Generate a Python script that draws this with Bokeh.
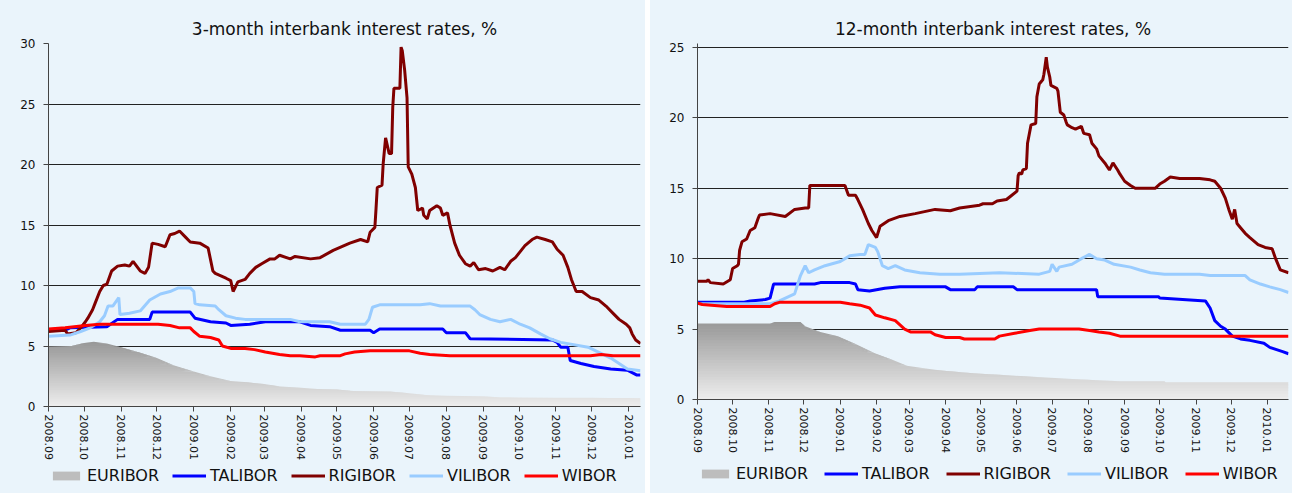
import numpy as np
import pandas as pd
from bokeh.plotting import figure
from bokeh.layouts import row, column
from bokeh.models import FixedTicker, Legend, LegendItem, Range1d, DatetimeTickFormatter
from bokeh.embed import file_html
from bokeh.resources import INLINE

BG = "#EAF4FB"
FONT = "DejaVu Sans"

month_ticks = ["2008-09-01", "2008-10-01", "2008-11-01", "2008-12-01", "2009-01-01", "2009-02-01",
               "2009-03-01", "2009-04-01", "2009-05-01", "2009-06-01", "2009-07-01", "2009-08-01",
               "2009-09-01", "2009-10-01", "2009-11-01", "2009-12-01", "2010-01-01"]

series_names = ["EURIBOR", "TALIBOR", "RIGIBOR", "VILIBOR", "WIBOR"]
series_colors = ["#BDBDBD", "#0000FF", "#800000", "#99CCFF", "#FF0000"]

# ---------------- 3-month rates ----------------
eur3 = [("2008-09-01", 4.95), ("2008-09-20", 5.0), ("2008-10-01", 5.25), ("2008-10-09", 5.35),
        ("2008-10-20", 5.2), ("2008-11-01", 4.9), ("2008-11-15", 4.5), ("2008-12-01", 4.0),
        ("2008-12-15", 3.4), ("2009-01-01", 2.9), ("2009-01-15", 2.5), ("2009-02-01", 2.1),
        ("2009-02-15", 2.0), ("2009-03-01", 1.85), ("2009-03-15", 1.65), ("2009-04-01", 1.55),
        ("2009-04-15", 1.45), ("2009-05-01", 1.4), ("2009-05-15", 1.28), ("2009-06-01", 1.27),
        ("2009-06-15", 1.25), ("2009-07-01", 1.1), ("2009-07-15", 0.95), ("2009-08-01", 0.88),
        ("2009-08-15", 0.86), ("2009-09-01", 0.82), ("2009-09-15", 0.77), ("2009-10-01", 0.74),
        ("2009-11-01", 0.72), ("2009-12-01", 0.72), ("2009-12-15", 0.71), ("2010-01-01", 0.70),
        ("2010-01-11", 0.68)]

tal3 = [("2008-09-01", 6.3), ("2008-09-15", 6.3), ("2008-09-19", 6.5), ("2008-10-20", 6.6),
        ("2008-10-29", 7.2), ("2008-11-25", 7.2), ("2008-11-27", 7.8), ("2008-12-29", 7.8),
        ("2009-01-02", 7.3), ("2009-01-15", 7.0), ("2009-01-28", 6.9), ("2009-02-01", 6.7),
        ("2009-02-17", 6.8), ("2009-03-02", 7.0), ("2009-03-31", 7.0), ("2009-04-09", 6.7),
        ("2009-04-25", 6.6), ("2009-05-04", 6.3), ("2009-05-29", 6.3), ("2009-06-01", 6.1),
        ("2009-06-06", 6.4), ("2009-07-29", 6.4), ("2009-08-01", 6.1), ("2009-08-17", 6.1),
        ("2009-08-21", 5.6), ("2009-10-29", 5.5), ("2009-11-02", 5.3), ("2009-11-05", 4.9),
        ("2009-11-11", 4.9), ("2009-11-13", 3.8), ("2009-11-22", 3.55), ("2009-12-03", 3.3),
        ("2009-12-17", 3.1), ("2009-12-31", 3.0), ("2010-01-08", 2.6), ("2010-01-11", 2.6)]

rig3 = [("2008-09-01", 6.2), ("2008-09-15", 6.3), ("2008-09-17", 6.0), ("2008-09-24", 6.1),
        ("2008-09-28", 6.5), ("2008-10-02", 7.0), ("2008-10-04", 7.3), ("2008-10-08", 8.0),
        ("2008-10-10", 8.5), ("2008-10-14", 9.5), ("2008-10-17", 10.0), ("2008-10-20", 10.1),
        ("2008-10-24", 11.2), ("2008-10-29", 11.6), ("2008-11-04", 11.7), ("2008-11-08", 11.6),
        ("2008-11-11", 12.0), ("2008-11-17", 11.2), ("2008-11-21", 11.0), ("2008-11-24", 11.5),
        ("2008-11-27", 13.5), ("2008-12-02", 13.4), ("2008-12-08", 13.2), ("2008-12-12", 14.2),
        ("2008-12-16", 14.3), ("2008-12-20", 14.5), ("2008-12-25", 14.0), ("2008-12-29", 13.6),
        ("2009-01-06", 13.5), ("2009-01-13", 13.1), ("2009-01-17", 11.2), ("2009-01-19", 11.0),
        ("2009-01-28", 10.6), ("2009-02-01", 10.4), ("2009-02-03", 9.5), ("2009-02-07", 10.3),
        ("2009-02-13", 10.5), ("2009-02-17", 11.0), ("2009-02-22", 11.5), ("2009-02-27", 11.8),
        ("2009-03-06", 12.2), ("2009-03-10", 12.2), ("2009-03-14", 12.5), ("2009-03-23", 12.2),
        ("2009-03-27", 12.4), ("2009-04-09", 12.2), ("2009-04-17", 12.3), ("2009-04-28", 12.9),
        ("2009-05-12", 13.5), ("2009-05-21", 13.8), ("2009-05-27", 13.6), ("2009-05-29", 14.4),
        ("2009-06-02", 14.8), ("2009-06-03", 16.4), ("2009-06-04", 18.1), ("2009-06-08", 18.3),
        ("2009-06-09", 20.1), ("2009-06-11", 22.2), ("2009-06-14", 20.9), ("2009-06-16", 20.9),
        ("2009-06-17", 24.7), ("2009-06-18", 26.3), ("2009-06-23", 26.3), ("2009-06-24", 29.7),
        ("2009-06-25", 29.4), ("2009-06-27", 27.8), ("2009-06-29", 25.5), ("2009-06-30", 19.8),
        ("2009-07-03", 19.2), ("2009-07-06", 18.1), ("2009-07-08", 16.2), ("2009-07-12", 16.4),
        ("2009-07-13", 15.8), ("2009-07-16", 15.5), ("2009-07-18", 16.2), ("2009-07-24", 16.6),
        ("2009-07-27", 16.4), ("2009-07-29", 15.8), ("2009-08-02", 16.0), ("2009-08-04", 15.0),
        ("2009-08-08", 13.5), ("2009-08-12", 12.5), ("2009-08-17", 11.8), ("2009-08-21", 11.6),
        ("2009-08-24", 11.9), ("2009-08-28", 11.3), ("2009-09-03", 11.4), ("2009-09-09", 11.2),
        ("2009-09-15", 11.5), ("2009-09-19", 11.3), ("2009-09-24", 12.0), ("2009-09-28", 12.3),
        ("2009-10-02", 12.8), ("2009-10-06", 13.3), ("2009-10-12", 13.8), ("2009-10-16", 14.0),
        ("2009-10-23", 13.8), ("2009-10-29", 13.6), ("2009-11-02", 13.0), ("2009-11-07", 12.5),
        ("2009-11-11", 11.5), ("2009-11-14", 10.5), ("2009-11-18", 9.5), ("2009-11-23", 9.5),
        ("2009-11-30", 9.0), ("2009-12-07", 8.8), ("2009-12-13", 8.3), ("2009-12-19", 7.7),
        ("2009-12-24", 7.2), ("2009-12-30", 6.8), ("2010-01-02", 6.5), ("2010-01-04", 6.0),
        ("2010-01-07", 5.5), ("2010-01-11", 5.2)]

vil3 = [("2008-09-01", 5.8), ("2008-09-19", 5.9), ("2008-09-28", 6.2), ("2008-10-06", 6.5),
        ("2008-10-14", 7.0), ("2008-10-18", 7.5), ("2008-10-21", 8.3), ("2008-10-25", 8.3),
        ("2008-10-30", 9.0), ("2008-10-31", 7.6), ("2008-11-08", 7.7), ("2008-11-17", 7.9),
        ("2008-11-25", 8.8), ("2008-12-04", 9.3), ("2008-12-12", 9.5), ("2008-12-19", 9.8),
        ("2008-12-29", 9.8), ("2009-01-01", 9.5), ("2009-01-02", 8.5), ("2009-01-06", 8.4),
        ("2009-01-19", 8.3), ("2009-01-22", 8.0), ("2009-01-28", 7.5), ("2009-02-05", 7.3),
        ("2009-02-13", 7.2), ("2009-03-23", 7.2), ("2009-03-31", 7.0), ("2009-04-25", 7.0),
        ("2009-05-04", 6.8), ("2009-05-25", 6.8), ("2009-05-28", 7.2), ("2009-05-31", 8.2),
        ("2009-06-06", 8.4), ("2009-07-10", 8.4), ("2009-07-18", 8.5), ("2009-07-27", 8.3),
        ("2009-08-21", 8.3), ("2009-08-25", 8.0), ("2009-08-29", 7.6), ("2009-09-07", 7.2),
        ("2009-09-15", 7.0), ("2009-09-24", 7.2), ("2009-10-02", 6.8), ("2009-10-10", 6.5),
        ("2009-10-19", 6.0), ("2009-10-27", 5.6), ("2009-11-05", 5.3), ("2009-11-28", 4.9),
        ("2009-12-17", 4.0), ("2009-12-31", 3.1), ("2010-01-11", 2.95)]

wib3 = [("2008-09-01", 6.4), ("2008-09-15", 6.5), ("2008-10-02", 6.7), ("2008-10-14", 6.8),
        ("2008-12-02", 6.8), ("2008-12-12", 6.7), ("2008-12-20", 6.5), ("2008-12-29", 6.5),
        ("2009-01-01", 6.2), ("2009-01-06", 5.8), ("2009-01-15", 5.7), ("2009-01-22", 5.5),
        ("2009-01-25", 5.0), ("2009-02-01", 4.8), ("2009-02-13", 4.8), ("2009-02-21", 4.7),
        ("2009-03-02", 4.5), ("2009-03-14", 4.3), ("2009-03-23", 4.2), ("2009-03-31", 4.2),
        ("2009-04-13", 4.1), ("2009-04-17", 4.2), ("2009-05-04", 4.2), ("2009-05-08", 4.35),
        ("2009-05-16", 4.5), ("2009-05-29", 4.6), ("2009-07-01", 4.6), ("2009-07-10", 4.4),
        ("2009-07-18", 4.3), ("2009-08-04", 4.2), ("2009-11-30", 4.2), ("2009-12-09", 4.3),
        ("2009-12-19", 4.2), ("2010-01-11", 4.2)]

# ---------------- 12-month rates ----------------
eur12 = [("2008-09-01", 5.4), ("2008-11-02", 5.4), ("2008-11-06", 5.5), ("2008-11-28", 5.5),
         ("2008-12-02", 5.2), ("2008-12-15", 4.8), ("2008-12-30", 4.5), ("2009-01-15", 3.9),
         ("2009-01-30", 3.3), ("2009-02-15", 2.8), ("2009-02-27", 2.4), ("2009-03-15", 2.2),
         ("2009-03-28", 2.06), ("2009-04-27", 1.85), ("2009-05-28", 1.7), ("2009-06-26", 1.56),
         ("2009-07-26", 1.42), ("2009-08-28", 1.3), ("2009-10-05", 1.3), ("2009-10-06", 1.23),
         ("2010-01-19", 1.23)]

tal12 = [("2008-09-01", 6.9), ("2008-10-11", 6.9), ("2008-10-16", 7.0), ("2008-10-29", 7.1),
         ("2008-11-02", 7.2), ("2008-11-05", 8.2), ("2008-12-10", 8.2), ("2008-12-15", 8.3),
         ("2009-01-09", 8.3), ("2009-01-14", 8.2), ("2009-01-16", 7.8), ("2009-01-26", 7.7),
         ("2009-02-08", 7.9), ("2009-02-21", 8.0), ("2009-04-01", 8.0), ("2009-04-05", 7.8),
         ("2009-04-26", 7.8), ("2009-04-28", 8.0), ("2009-05-29", 8.0), ("2009-06-01", 7.8),
         ("2009-08-08", 7.8), ("2009-08-09", 7.3), ("2009-09-30", 7.3), ("2009-10-01", 7.2),
         ("2009-11-09", 7.0), ("2009-11-13", 6.5), ("2009-11-17", 5.6), ("2009-11-22", 5.2),
         ("2009-11-26", 5.0), ("2009-12-02", 4.5), ("2009-12-09", 4.3), ("2009-12-17", 4.2),
         ("2009-12-29", 4.0), ("2010-01-03", 3.7), ("2010-01-14", 3.4), ("2010-01-19", 3.25)]

rig12 = [("2008-09-01", 8.4), ("2008-09-09", 8.4), ("2008-09-10", 8.5), ("2008-09-12", 8.3),
         ("2008-09-23", 8.2), ("2008-09-29", 8.5), ("2008-10-01", 9.3), ("2008-10-05", 9.5),
         ("2008-10-06", 9.6), ("2008-10-07", 10.6), ("2008-10-09", 11.2), ("2008-10-13", 11.4),
         ("2008-10-16", 12.0), ("2008-10-20", 12.2), ("2008-10-23", 12.9), ("2008-10-24", 13.1),
         ("2008-11-02", 13.2), ("2008-11-15", 13.0), ("2008-11-23", 13.5), ("2008-12-02", 13.6),
         ("2008-12-05", 13.6), ("2008-12-06", 15.2), ("2009-01-05", 15.2), ("2009-01-08", 14.5),
         ("2009-01-14", 14.5), ("2009-01-16", 14.2), ("2009-01-20", 13.5), ("2009-01-25", 12.5),
         ("2009-01-28", 12.0), ("2009-02-01", 11.5), ("2009-02-04", 12.3), ("2009-02-11", 12.7),
         ("2009-02-21", 13.0), ("2009-03-06", 13.2), ("2009-03-23", 13.5), ("2009-04-05", 13.4),
         ("2009-04-13", 13.6), ("2009-04-30", 13.8), ("2009-05-03", 13.9), ("2009-05-11", 13.9),
         ("2009-05-15", 14.1), ("2009-05-23", 14.2), ("2009-05-26", 14.4), ("2009-06-01", 14.8),
         ("2009-06-02", 15.9), ("2009-06-03", 16.1), ("2009-06-05", 16.0), ("2009-06-06", 16.3),
         ("2009-06-09", 16.4), ("2009-06-10", 18.2), ("2009-06-13", 19.5), ("2009-06-17", 19.6),
         ("2009-06-18", 21.5), ("2009-06-20", 22.4), ("2009-06-23", 22.7), ("2009-06-24", 23.1),
         ("2009-06-26", 24.3), ("2009-06-27", 23.6), ("2009-06-29", 22.9), ("2009-06-30", 22.3),
         ("2009-07-05", 22.1), ("2009-07-06", 21.9), ("2009-07-08", 20.4), ("2009-07-11", 20.2),
         ("2009-07-13", 19.7), ("2009-07-14", 19.5), ("2009-07-18", 19.3), ("2009-07-21", 19.2),
         ("2009-07-26", 19.4), ("2009-07-28", 18.9), ("2009-08-02", 18.8), ("2009-08-04", 18.2),
         ("2009-08-08", 17.8), ("2009-08-10", 17.3), ("2009-08-15", 16.8), ("2009-08-19", 16.3),
         ("2009-08-22", 16.8), ("2009-08-26", 16.3), ("2009-08-28", 16.0), ("2009-09-01", 15.5),
         ("2009-09-06", 15.2), ("2009-09-10", 15.0), ("2009-09-27", 15.0), ("2009-10-01", 15.3),
         ("2009-10-05", 15.5), ("2009-10-10", 15.8), ("2009-10-18", 15.7), ("2009-11-04", 15.7),
         ("2009-11-13", 15.6), ("2009-11-17", 15.5), ("2009-11-22", 15.0), ("2009-11-26", 14.3),
         ("2009-11-29", 13.5), ("2009-12-02", 12.8), ("2009-12-04", 13.5), ("2009-12-06", 12.5),
         ("2009-12-09", 12.2), ("2009-12-13", 11.8), ("2009-12-17", 11.5), ("2009-12-24", 11.0),
         ("2009-12-30", 10.8), ("2010-01-05", 10.7), ("2010-01-08", 10.0), ("2010-01-12", 9.2),
         ("2010-01-19", 9.0)]

vil12 = [("2008-09-01", 6.8), ("2008-11-02", 6.8), ("2008-11-10", 7.0), ("2008-11-23", 7.5),
         ("2008-11-28", 8.8), ("2008-12-02", 9.5), ("2008-12-05", 9.0), ("2008-12-10", 9.2),
         ("2008-12-19", 9.5), ("2009-01-01", 9.8), ("2009-01-09", 10.2), ("2009-01-18", 10.3),
         ("2009-01-22", 10.3), ("2009-01-25", 11.0), ("2009-01-31", 10.8), ("2009-02-02", 10.5),
         ("2009-02-06", 9.5), ("2009-02-11", 9.3), ("2009-02-17", 9.5), ("2009-02-25", 9.2),
         ("2009-03-10", 9.0), ("2009-03-27", 8.9), ("2009-04-13", 8.9), ("2009-05-17", 9.0),
         ("2009-06-20", 8.9), ("2009-06-29", 9.1), ("2009-07-01", 9.6), ("2009-07-05", 9.1),
         ("2009-07-07", 9.4), ("2009-07-18", 9.6), ("2009-07-26", 10.0), ("2009-08-02", 10.3),
         ("2009-08-08", 10.0), ("2009-08-15", 9.9), ("2009-08-23", 9.6), ("2009-09-06", 9.4),
         ("2009-09-14", 9.2), ("2009-09-23", 9.0), ("2009-10-05", 8.9), ("2009-11-04", 8.9),
         ("2009-11-13", 8.8), ("2009-12-13", 8.8), ("2009-12-17", 8.5), ("2009-12-26", 8.2),
         ("2010-01-03", 8.0), ("2010-01-12", 7.8), ("2010-01-19", 7.6)]

wib12 = [("2008-09-01", 6.85), ("2008-09-05", 6.75), ("2008-09-26", 6.6), ("2008-11-02", 6.6),
         ("2008-11-06", 6.8), ("2008-11-10", 6.9), ("2009-01-01", 6.9), ("2009-01-09", 6.8),
         ("2009-01-18", 6.7), ("2009-01-26", 6.5), ("2009-01-31", 6.0), ("2009-02-08", 5.8),
         ("2009-02-17", 5.6), ("2009-02-25", 5.0), ("2009-03-02", 4.8), ("2009-03-19", 4.8),
         ("2009-03-23", 4.6), ("2009-04-01", 4.4), ("2009-04-13", 4.4), ("2009-04-17", 4.3),
         ("2009-05-13", 4.3), ("2009-05-17", 4.5), ("2009-05-30", 4.7), ("2009-06-12", 4.9),
         ("2009-06-20", 5.0), ("2009-07-24", 5.0), ("2009-08-02", 4.9), ("2009-08-10", 4.8),
         ("2009-08-19", 4.7), ("2009-08-28", 4.5), ("2010-01-19", 4.5)]


def split(pairs):
    d = pd.to_datetime([a for a, _ in pairs])
    v = np.array([b for _, b in pairs], dtype=float)
    return d, v


def gradient_area(p, pairs, vtop):
    d, v = split(pairs)
    levels = np.linspace(0, vtop, 29)
    for k in range(len(levels) - 1):
        lo, hi = levels[k], levels[k + 1]
        y1 = np.minimum(v, lo)
        y2 = np.minimum(v, hi + 0.06)
        t = (lo + hi) / 2 / vtop
        g = int(round(238 - (238 - 150) * t))
        col = "#%02x%02x%02x" % (g, g, g)
        p.varea(x=d, y1=y1, y2=y2, fill_color=col, fill_alpha=1.0)


def make_panel(title, data, ymax, ytop, x_end, fw, fh, bl, br, bt, bb, vtop):
    p = figure(x_axis_type="datetime", output_backend="svg", toolbar_location=None,
               frame_width=fw, frame_height=fh,
               min_border_left=bl, min_border_right=br, min_border_top=bt, min_border_bottom=bb,
               x_range=Range1d(pd.Timestamp("2008-09-01"), pd.Timestamp(x_end)),
               y_range=Range1d(0, ytop),
               background_fill_color=BG, border_fill_color=BG, outline_line_color=None)
    p.title.text = title
    p.title.align = "center"
    p.title.text_font = FONT
    p.title.text_font_size = "17px"
    p.title.text_font_style = "normal"
    p.title.text_color = "#111111"

    eur, tal, rig, vil, wib = data
    gradient_area(p, eur, vtop)
    for pairs, col in zip([tal, rig, vil, wib], series_colors[1:]):
        d, v = split(pairs)
        p.line(x=d, y=v, line_color=col, line_width=3)

    yt = list(range(0, ymax + 1, 5))
    p.yaxis.ticker = FixedTicker(ticks=yt)
    p.ygrid.ticker = FixedTicker(ticks=yt)
    p.ygrid.grid_line_color = "#222222"
    p.ygrid.grid_line_width = 1
    p.xgrid.grid_line_color = None

    xt = [pd.Timestamp(s).value / 1e6 for s in month_ticks]
    p.xaxis.ticker = FixedTicker(ticks=xt)
    fmt = "%Y.%m"
    p.xaxis.formatter = DatetimeTickFormatter(milliseconds=fmt, seconds=fmt, minsec=fmt, minutes=fmt,
                                              hourmin=fmt, hours=fmt, days=fmt, months=fmt, years=fmt)
    p.xaxis.major_label_orientation = "vertical"
    for ax in (p.xaxis, p.yaxis):
        ax.axis_line_color = "#444444"
        ax.major_tick_line_color = "#444444"
        ax.major_tick_out = 5
        ax.major_tick_in = 0
        ax.minor_tick_line_color = None
        ax.major_label_text_font = FONT
        ax.major_label_text_color = "#111111"
    p.xaxis.major_label_text_font_size = "11px"
    p.yaxis.major_label_text_font_size = "12px"
    p.xaxis.major_label_standoff = 3
    p.yaxis.major_label_standoff = 8
    return p


def make_legend(width, height, loc, spacing):
    q = figure(width=width, height=height, output_backend="svg", toolbar_location=None,
               min_border=0, x_range=Range1d(0, 1), y_range=Range1d(0, 1),
               x_axis_location=None, y_axis_location=None,
               background_fill_color=BG, border_fill_color=BG, outline_line_color=None)
    q.xgrid.grid_line_color = None
    q.ygrid.grid_line_color = None
    # placeholder renderers kept outside the visible range: they only feed the legend swatches
    rends = [q.quad(left=[5], right=[6], bottom=[5], top=[6],
                    fill_color=series_colors[0], line_color=None)]
    for col in series_colors[1:]:
        rends.append(q.line(x=[5, 6], y=[5, 6], line_color=col, line_width=3))
    items = [LegendItem(label=n, renderers=[r]) for n, r in zip(series_names, rends)]
    leg = Legend(items=items, orientation="horizontal", location=loc,
                 label_text_font=FONT, label_text_font_size="16px", label_text_color="#111111",
                 glyph_width=34, glyph_height=11, label_standoff=4, spacing=spacing,
                 padding=4, margin=0, background_fill_alpha=0, border_line_alpha=0)
    q.add_layout(leg, "center")
    return q


p1 = make_panel("3-month interbank interest rates, %", [eur3, tal3, rig3, vil3, wib3], 30, 30.0,
                "2010-01-11", 592, 363, 48, 5, 43, 56, 5.4)
p2 = make_panel("12-month interbank interest rates, %", [eur12, tal12, rig12, vil12, wib12], 25, 25.28,
                "2010-01-19", 591, 356, 47, 4, 43, 63, 5.6)
l1 = make_legend(645, 31, (-3, 4), 13)
l2 = make_legend(642, 31, (-3, 6), 16)

layout = row(column(p1, l1, spacing=0, styles={"background-color": BG}),
             column(p2, l2, spacing=0, styles={"background-color": BG}), spacing=5)
open("out.html", "w").write(file_html(layout, INLINE))
